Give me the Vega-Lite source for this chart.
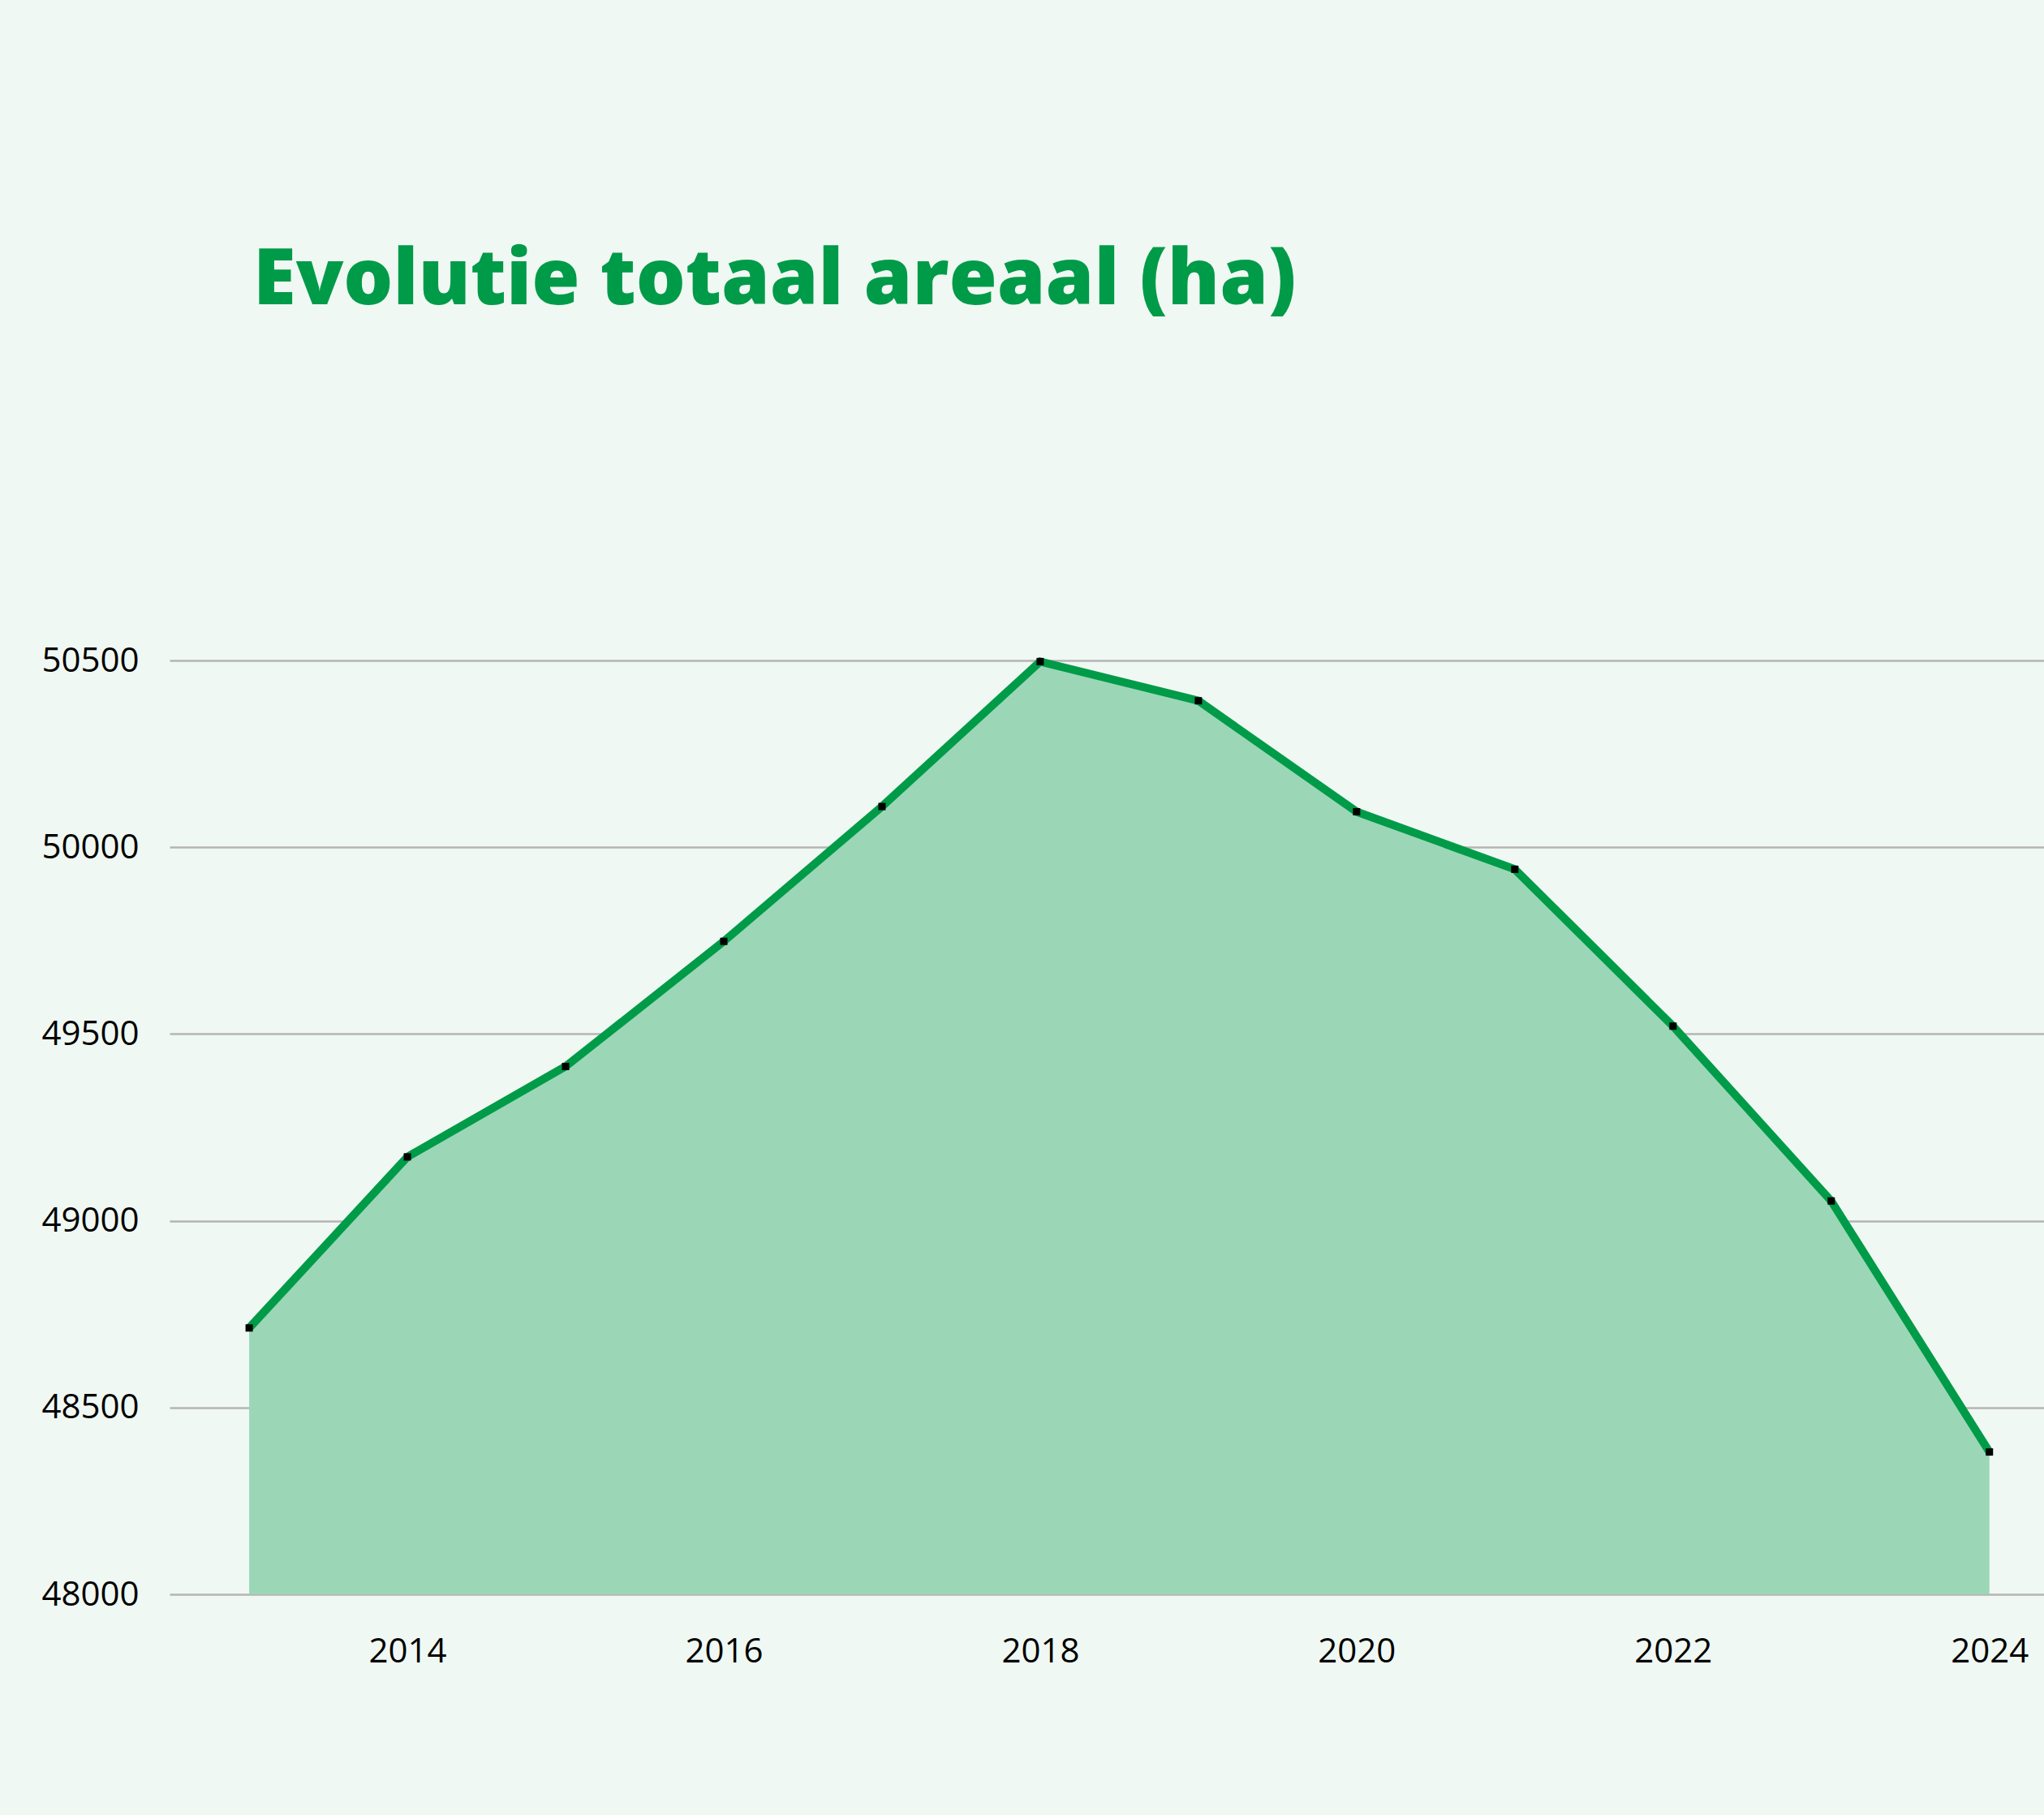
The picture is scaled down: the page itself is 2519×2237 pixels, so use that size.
{
  "$schema": "https://vega.github.io/schema/vega-lite/v6.json",
  "autosize": {"type": "none"},
  "width": 2310,
  "height": 1151,
  "padding": {"left": 209, "top": 814, "right": 0, "bottom": 272},
  "background": "#F0F8F3",
  "title": {
    "text": "Evolutie totaal areaal (ha)",
    "anchor": "start",
    "frame": "group",
    "orient": "top",
    "dx": 103,
    "offset": 322,
    "baseline": "alphabetic",
    "font": "Open Sans",
    "fontSize": 96,
    "fontWeight": 800,
    "color": "#009B48"
  },
  "config": {
    "view": {"stroke": null},
    "axis": {
      "labelFont": "Open Sans",
      "labelFontSize": 42,
      "labelColor": "#000000",
      "domain": false,
      "ticks": false,
      "title": null,
      "gridColor": "#B5B5B5",
      "gridWidth": 2.5
    }
  },
  "data": {
    "values": [
      {"jaar": 2013, "areaal": 48713},
      {"jaar": 2014, "areaal": 49171},
      {"jaar": 2015, "areaal": 49413},
      {"jaar": 2016, "areaal": 49748},
      {"jaar": 2017, "areaal": 50109},
      {"jaar": 2018, "areaal": 50497},
      {"jaar": 2019, "areaal": 50392},
      {"jaar": 2020, "areaal": 50095},
      {"jaar": 2021, "areaal": 49941},
      {"jaar": 2022, "areaal": 49521},
      {"jaar": 2023, "areaal": 49053},
      {"jaar": 2024, "areaal": 48381}
    ]
  },
  "encoding": {
    "x": {
      "field": "jaar",
      "type": "quantitative",
      "scale": {"domain": [2012.497, 2024.345], "nice": false, "zero": false},
      "axis": {
        "values": [2014, 2016, 2018, 2020, 2022, 2024],
        "format": "d",
        "grid": false,
        "labelPadding": 50,
        "labelBaseline": "top"
      }
    },
    "y": {
      "field": "areaal",
      "type": "quantitative",
      "scale": {"domain": [48000, 50500], "nice": false, "zero": false},
      "axis": {
        "values": [48000, 48500, 49000, 49500, 50000, 50500],
        "format": "d",
        "grid": true,
        "labelPadding": 38,
        "labelBaseline": "middle"
      }
    }
  },
  "layer": [
    {"mark": {"type": "area", "color": "#9BD7B7"}, "encoding": {"y2": {"datum": 48000}}},
    {"mark": {"type": "line", "color": "#009B48", "strokeWidth": 10}},
    {"mark": {"type": "point", "shape": "square", "filled": true, "color": "#000000", "size": 81, "opacity": 1}}
  ]
}
